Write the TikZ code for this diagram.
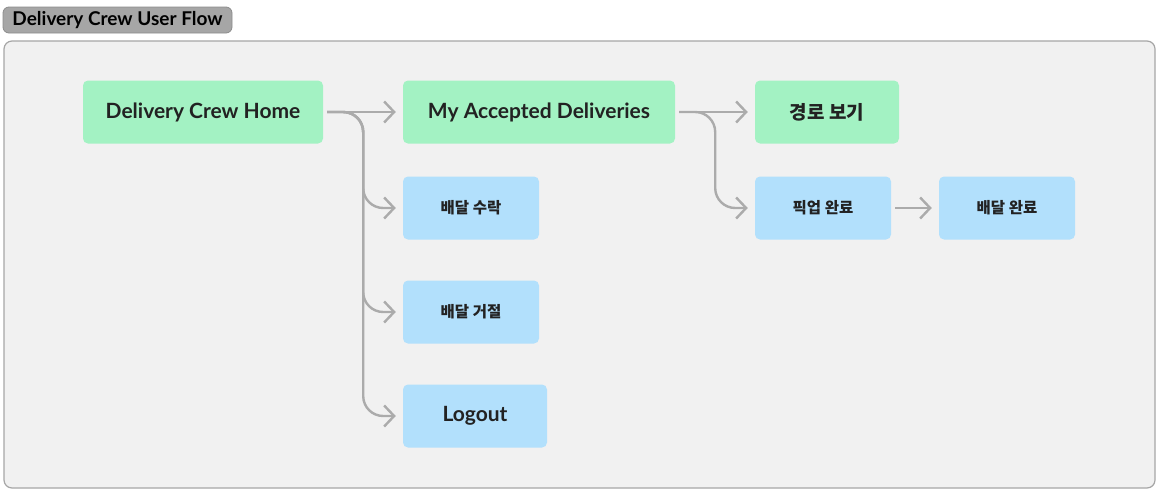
\documentclass[tikz,border=0pt]{standalone}
\usepackage{fontspec}
\setmainfont{Lato}
\newfontfamily\kr{Noto Sans CJK KR}
\usetikzlibrary{arrows.meta}
\definecolor{crewgreen}{HTML}{A3F2C3}
\definecolor{crewblue}{HTML}{B2E0FC}
\definecolor{panelbg}{HTML}{F1F1F1}
\definecolor{panelline}{HTML}{A6A6A6}
\definecolor{flowline}{HTML}{ABABAB}
\definecolor{labeltext}{HTML}{222222}
\begin{document}
\begin{tikzpicture}[x=1pt, y=-1pt,
  box/.style={rounded corners=5pt, inner sep=0pt, minimum height=63pt, text=labeltext, font=\bfseries},
  mainbox/.style={box, fill=crewgreen, font=\fontsize{21}{24}\selectfont\bfseries},
  subbox/.style={box, fill=crewblue, font=\kr\fontsize{15.5}{18}\selectfont\bfseries},
  flow/.style={draw=flowline, line width=2.4pt, rounded corners=20pt,
    -{Straight Barb[length=10pt, width=21pt]}, shorten <=4pt, shorten >=7pt}]
  \useasboundingbox (0,0) rectangle (1161,493);
  % panel and title
  \draw[fill=panelbg, draw=panelline, line width=1.2pt, rounded corners=8pt] (4,41) rectangle (1155,488);
  \node[rounded corners=6pt, fill=black!35, draw=black!45, line width=0.8pt, minimum width=229pt, minimum height=26pt,
    inner sep=0pt, font=\fontsize{19}{22}\selectfont\bfseries] (title) at (117.5,20) {Delivery Crew User Flow};
  % screens
  \node[mainbox, minimum width=240pt] (home) at (203,112) {Delivery Crew Home};
  \node[mainbox, minimum width=272pt] (accepted) at (539,112) {My Accepted Deliveries};
  \node[mainbox, minimum width=144pt, font=\kr\fontsize{19}{22}\selectfont\bfseries] (route) at (827,112) {경로 보기};
  \node[subbox, minimum width=136pt] (accept) at (471,208) {배달 수락};
  \node[subbox, minimum width=136pt] (reject) at (471,312) {배달 거절};
  \node[mainbox, fill=crewblue, minimum width=144pt] (logout) at (475,416) {Logout};
  \node[subbox, minimum width=136pt] (pickup) at (823,208) {픽업 완료};
  \node[subbox, minimum width=136pt] (done) at (1007,208) {배달 완료};
  % connectors
  \draw[flow] (home) -- (accepted);
  \draw[flow] (home.east) -- ++(40,0) |- (accept.west);
  \draw[flow] (home.east) -- ++(40,0) |- (reject.west);
  \draw[flow] (home.east) -- ++(40,0) |- (logout.west);
  \draw[flow] (accepted) -- (route);
  \draw[flow] (accepted.east) -- ++(40,0) |- (pickup.west);
  \draw[flow] (pickup) -- (done);
\end{tikzpicture}
\end{document}
